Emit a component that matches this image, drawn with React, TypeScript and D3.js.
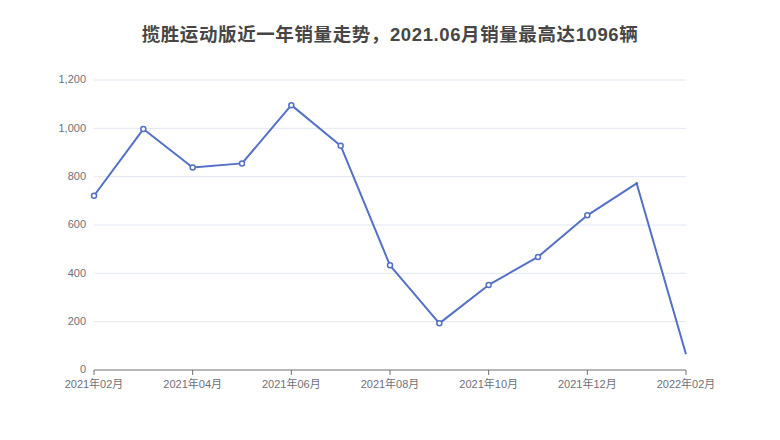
import { useEffect, useRef } from "react";
import * as d3 from "d3";

const months = [
  "2021年02月", "2021年03月", "2021年04月", "2021年05月", "2021年06月", "2021年07月", "2021年08月",
  "2021年09月", "2021年10月", "2021年11月", "2021年12月", "2022年01月", "2022年02月",
];
const sales = [721, 997, 838, 855, 1096, 928, 433, 193, 352, 468, 640, 772, 65];
const yTicks = [0, 200, 400, 600, 800, 1000, 1200];
const title = "揽胜运动版近一年销量走势，2021.06月销量最高达1096辆";

const W = 780;
const H = 440;
const margin = { top: 80, right: 94, bottom: 70, left: 94 };
const font = "'Liberation Sans', 'Noto Sans CJK SC', sans-serif";

const App = () => {
  const ref = useRef<SVGSVGElement | null>(null);

  useEffect(() => {
    if (!ref.current) return;
    const svg = d3.select(ref.current);
    svg.selectAll("*").remove();

    const x = d3
      .scalePoint<string>()
      .domain(months)
      .range([margin.left, W - margin.right]);
    const y = d3
      .scaleLinear()
      .domain([0, 1200])
      .range([H - margin.bottom, margin.top]);

    svg
      .append("text")
      .attr("x", W / 2)
      .attr("y", 41)
      .attr("text-anchor", "middle")
      .attr("font-family", font)
      .attr("font-size", 18.5)
      .attr("letter-spacing", 0.6)
      .attr("font-weight", "bold")
      .attr("fill", "#464646")
      .text(title);

    // grid
    svg
      .append("g")
      .selectAll("line")
      .data(yTicks.filter((t) => t > 0))
      .join("line")
      .attr("x1", margin.left)
      .attr("x2", W - margin.right)
      .attr("y1", (d) => y(d))
      .attr("y2", (d) => y(d))
      .attr("stroke", "#e0e6f1");

    // y labels
    svg
      .append("g")
      .selectAll("text")
      .data(yTicks)
      .join("text")
      .attr("x", margin.left - 8)
      .attr("y", (d) => y(d))
      .attr("dy", "0.3em")
      .attr("text-anchor", "end")
      .attr("font-family", font)
      .attr("font-size", 11)
      .attr("fill", "#6e7079")
      .text((d) => d3.format(",")(d));

    // x axis
    const xTicks = months.filter((_, i) => i % 2 === 0);
    const gx = svg.append("g");
    gx.append("line")
      .attr("x1", margin.left)
      .attr("x2", W - margin.right)
      .attr("y1", y(0))
      .attr("y2", y(0))
      .attr("stroke", "#6e7079");
    gx.selectAll("line.tick")
      .data(xTicks)
      .join("line")
      .attr("class", "tick")
      .attr("x1", (d) => x(d)!)
      .attr("x2", (d) => x(d)!)
      .attr("y1", y(0))
      .attr("y2", y(0) + 5)
      .attr("stroke", "#6e7079");
    gx.selectAll("text")
      .data(xTicks)
      .join("text")
      .attr("x", (d) => x(d)!)
      .attr("y", y(0) + 18)
      .attr("text-anchor", "middle")
      .attr("font-family", font)
      .attr("font-size", 11)
      .attr("fill", "#6e7079")
      .text((d) => d);

    const line = d3
      .line<number>()
      .x((_, i) => x(months[i])!)
      .y((d) => y(d));

    svg
      .append("path")
      .datum(sales)
      .attr("d", line)
      .attr("fill", "none")
      .attr("stroke", "#5470c6")
      .attr("stroke-width", 2)
      .attr("stroke-linejoin", "round");

    svg
      .append("g")
      .selectAll("circle")
      .data(sales.slice(0, 11))
      .join("circle")
      .attr("cx", (_, i) => x(months[i])!)
      .attr("cy", (d) => y(d))
      .attr("r", 2.5)
      .attr("fill", "#fff")
      .attr("stroke", "#5470c6")
      .attr("stroke-width", 1.5);

    svg
      .append("circle")
      .attr("cx", x(months[11])!)
      .attr("cy", y(sales[11]))
      .attr("r", 1.5)
      .attr("fill", "#5470c6");
  }, []);

  return (
    <svg
      ref={ref}
      width={W}
      height={H}
      style={{ display: "block", margin: -8, background: "#fff" }}
    />
  );
};

export default App;
